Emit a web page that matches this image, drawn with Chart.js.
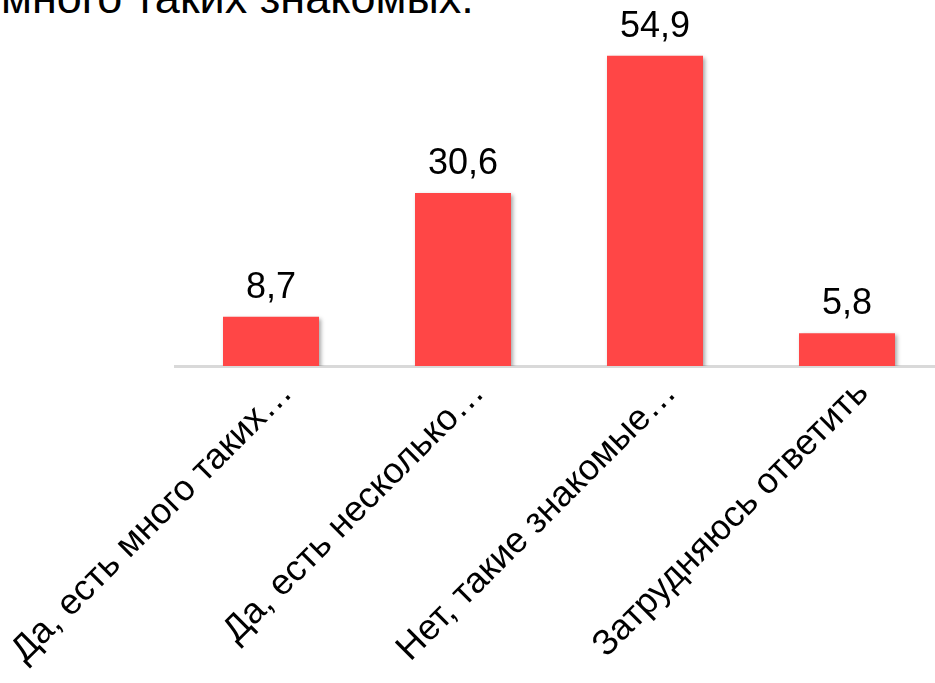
<!DOCTYPE html>
<html>
<head>
<meta charset="utf-8">
<script src="https://cdn.jsdelivr.net/npm/chart.js@4"></script>
<style>
  html, body { margin: 0; padding: 0; background: #fff; overflow: hidden; }
  body { width: 935px; height: 683px; position: relative; }
  #title {
    position: absolute; left: 1px; top: -25px;
    font: 45px/45px "Liberation Sans", Arial, sans-serif; color: #000;
    white-space: nowrap;
  }
  #wrap { position: absolute; left: 0; top: 0; width: 943px; height: 683px; }
</style>
</head>
<body>
<div id="title">много таких знакомых.</div>
<div id="wrap"><canvas id="chart"></canvas></div>
<script>
const categories = ['Да, есть много таких…', 'Да, есть несколько…', 'Нет, такие знакомые…', 'Затрудняюсь ответить'];
const values = [8.7, 30.6, 54.9, 5.8];

const fmt = v => v.toFixed(1).replace('.', ',');
const FONT = '"Liberation Sans", Arial, sans-serif';

// тень под столбцами
const shadowPlugin = {
  id: 'barShadow',
  beforeDatasetsDraw(chart) {
    const c = chart.ctx;
    c.save();
    c.shadowColor = 'rgba(0,0,0,0.35)';
    c.shadowBlur = 4;
    c.shadowOffsetX = 2;
    c.shadowOffsetY = 2;
  },
  afterDatasetsDraw(chart) { chart.ctx.restore(); }
};

// подписи значений над столбцами
const valueLabels = {
  id: 'valueLabels',
  afterDatasetsDraw(chart) {
    const c = chart.ctx;
    const meta = chart.getDatasetMeta(0);
    c.save();
    c.font = '36px ' + FONT;
    c.fillStyle = '#000';
    c.textAlign = 'center';
    c.textBaseline = 'alphabetic';
    meta.data.forEach((bar, i) => {
      c.fillText(fmt(values[i]), bar.x, bar.y - 19);
    });
    c.restore();
  }
};

new Chart(document.getElementById('chart'), {
  type: 'bar',
  data: {
    labels: categories,
    datasets: [{
      data: values,
      backgroundColor: '#FF4646',
      borderWidth: 0,
      categoryPercentage: 1,
      barPercentage: 0.5
    }]
  },
  options: {
    responsive: true,
    maintainAspectRatio: false,
    animation: false,
    layout: { padding: { left: 175, top: 27, right: 0, bottom: 0 } },
    plugins: { legend: { display: false }, tooltip: { enabled: false } },
    scales: {
      x: {
        grid: { display: false },
        border: { display: true, color: '#d9d9d9', width: 3 },
        ticks: {
          autoSkip: false,
          minRotation: 45,
          maxRotation: 45,
          color: '#000',
          font: { family: FONT, size: 36 },
          padding: -2,
          labelOffset: 16
        },
        afterFit(scale) {
          scale.height = 317;
          scale.paddingLeft = 0;
          scale.paddingRight = 0;
        }
      },
      y: { display: false, min: 0, max: 60 }
    }
  },
  plugins: [shadowPlugin, valueLabels]
});
</script>
</body>
</html>
